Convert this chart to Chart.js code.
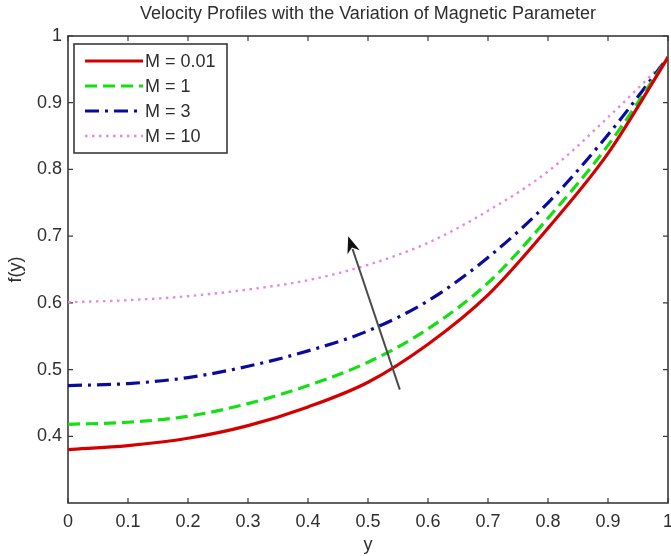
<!DOCTYPE html>
<html>
<head>
<meta charset="utf-8">
<script src="https://cdn.jsdelivr.net/npm/chart.js@4.4.1/dist/chart.umd.min.js"></script>
<style>
  html, body { margin: 0; padding: 0; background: #fff; }
  #wrap { width: 671px; height: 556px; position: relative; }
</style>
</head>
<body>
<div id="wrap"><canvas id="velocity-chart"></canvas></div>
<script>
/* ── DATA ── */
const yPos   = [0, 0.1, 0.2, 0.3, 0.4, 0.5, 0.6, 0.7, 0.8, 0.9, 1.0];
const fM001  = [0.380, 0.386, 0.397, 0.416, 0.444, 0.481, 0.538, 0.612, 0.712, 0.824, 0.968];
const fM1    = [0.418, 0.421, 0.430, 0.449, 0.476, 0.511, 0.561, 0.630, 0.727, 0.836, 0.968];
const fM3    = [0.476, 0.479, 0.488, 0.505, 0.528, 0.558, 0.603, 0.668, 0.750, 0.852, 0.968];
const fM10   = [0.601, 0.604, 0.610, 0.620, 0.634, 0.657, 0.690, 0.738, 0.797, 0.878, 0.966];
const seriesLabels = ['M = 0.01', 'M = 1', 'M = 3', 'M = 10'];
const xTicks = [0, 0.1, 0.2, 0.3, 0.4, 0.5, 0.6, 0.7, 0.8, 0.9, 1];
const yTicks = [0.4, 0.5, 0.6, 0.7, 0.8, 0.9, 1];
const arrowTail = [0.553, 0.470];
const arrowHead = [0.467, 0.700];

const C = {
  red:   '#d40000',
  green: '#12e012',
  blue:  '#0a0a9e',
  pink:  '#e58ae0',
  text:  '#2e2e2e',
  axis:  '#3a3a3a',
};
const FONT = "'Liberation Sans', Arial, Helvetica, sans-serif";

const pts = (ys) => yPos.map((x, i) => ({ x, y: ys[i] }));

/* ── FRAME + INWARD TICKS (matlab style) ── */
const framePlugin = {
  id: 'frame',
  beforeDatasetsDraw(chart) {
    const { ctx, chartArea: a, scales } = chart;
    ctx.save();
    ctx.strokeStyle = C.axis;
    ctx.lineWidth = 1.6;
    ctx.strokeRect(a.left, a.top, a.right - a.left, a.bottom - a.top);
    ctx.lineWidth = 1.2;
    ctx.beginPath();
    scales.x.ticks.forEach(t => {
      const px = scales.x.getPixelForValue(t.value);
      ctx.moveTo(px, a.bottom); ctx.lineTo(px, a.bottom - 5);
      ctx.moveTo(px, a.top);    ctx.lineTo(px, a.top + 5);
    });
    scales.y.ticks.forEach(t => {
      const py = scales.y.getPixelForValue(t.value);
      ctx.moveTo(a.left, py);  ctx.lineTo(a.left + 5, py);
      ctx.moveTo(a.right, py); ctx.lineTo(a.right - 5, py);
    });
    ctx.stroke();
    ctx.restore();
  },
};

/* ── ARROW + LEGEND BOX ── */
const overlayPlugin = {
  id: 'overlay',
  afterDatasetsDraw(chart) {
    const { ctx, scales } = chart;
    // arrow
    const x0 = scales.x.getPixelForValue(arrowTail[0]);
    const y0 = scales.y.getPixelForValue(arrowTail[1]);
    const x1 = scales.x.getPixelForValue(arrowHead[0]);
    const y1 = scales.y.getPixelForValue(arrowHead[1]);
    const ang = Math.atan2(y1 - y0, x1 - x0);
    const hl = 17, hw = 6.5;
    ctx.save();
    ctx.strokeStyle = '#4a4a4a';
    ctx.lineWidth = 2;
    ctx.beginPath();
    ctx.moveTo(x0, y0);
    ctx.lineTo(x1 - Math.cos(ang) * hl * 0.8, y1 - Math.sin(ang) * hl * 0.8);
    ctx.stroke();
    ctx.fillStyle = '#111';
    ctx.beginPath();
    ctx.moveTo(x1, y1);
    ctx.lineTo(x1 - Math.cos(ang) * hl - Math.sin(ang) * hw, y1 - Math.sin(ang) * hl + Math.cos(ang) * hw);
    ctx.lineTo(x1 - Math.cos(ang) * hl * 0.7, y1 - Math.sin(ang) * hl * 0.7);
    ctx.lineTo(x1 - Math.cos(ang) * hl + Math.sin(ang) * hw, y1 - Math.sin(ang) * hl - Math.cos(ang) * hw);
    ctx.closePath();
    ctx.fill();

    // legend
    const bx = 74, by = 44, bw = 153, bh = 109;
    ctx.fillStyle = '#fff';
    ctx.fillRect(bx, by, bw, bh);
    ctx.strokeStyle = C.axis;
    ctx.lineWidth = 1.6;
    ctx.strokeRect(bx, by, bw, bh);
    const rows = [61, 86, 111, 136];
    chart.data.datasets.forEach((ds, i) => {
      const ry = rows[i];
      ctx.strokeStyle = ds.borderColor;
      ctx.lineWidth = ds.borderWidth;
      ctx.lineCap = ds.borderCapStyle || 'butt';
      ctx.setLineDash(ds.borderDash || []);
      ctx.beginPath();
      ctx.moveTo(85, ry);
      ctx.lineTo(143, ry);
      ctx.stroke();
      ctx.setLineDash([]);
      ctx.fillStyle = C.text;
      ctx.font = '18px ' + FONT;
      ctx.textBaseline = 'middle';
      ctx.fillText(ds.label, 145, ry + 1);
    });
    ctx.restore();
  },
};

const ctx = document.getElementById('velocity-chart');

new Chart(ctx, {
  type: 'line',
  data: {
    datasets: [
      { label: seriesLabels[0], data: pts(fM001), borderColor: C.red,   borderWidth: 3.2, borderDash: [] },
      { label: seriesLabels[1], data: pts(fM1),   borderColor: C.green, borderWidth: 3.2, borderDash: [12, 6] },
      { label: seriesLabels[2], data: pts(fM3),   borderColor: C.blue,  borderWidth: 3.2, borderDash: [14, 6, 3, 6] },
      { label: seriesLabels[3], data: pts(fM10),  borderColor: C.pink,  borderWidth: 2.4, borderDash: [2.5, 4.5] },
    ].map(d => ({ ...d, pointRadius: 0, fill: false, cubicInterpolationMode: 'monotone' })),
  },
  options: {
    responsive: true,
    maintainAspectRatio: false,
    animation: false,
    devicePixelRatio: 1,
    layout: { padding: { left: 0, right: 3, top: 0, bottom: 0 } },
    plugins: {
      legend: { display: false },
      tooltip: { enabled: false },
      title: {
        display: true,
        fullSize: false,
        text: 'Velocity Profiles with the Variation of Magnetic Parameter',
        color: C.text,
        font: { family: FONT, size: 18, weight: 'normal' },
        padding: { top: 3, bottom: 11.4 },
      },
    },
    scales: {
      x: {
        type: 'linear',
        min: 0, max: 1,
        afterBuildTicks: s => { s.ticks = xTicks.map(v => ({ value: v })); },
        afterFit: s => { s.height = 53; s.paddingRight = 0; s.paddingLeft = 0; },
        grid: { display: false, drawTicks: false },
        border: { display: false },
        ticks: {
          color: C.text, padding: 8, maxRotation: 0, autoSkip: false,
          font: { family: FONT, size: 18 },
          callback: v => String(Math.round(v * 10) / 10),
        },
        title: { display: true, text: 'y', color: C.text, font: { family: FONT, size: 18 }, padding: { top: 2, bottom: 0 } },
      },
      y: {
        type: 'linear',
        min: 0.3, max: 1,
        afterBuildTicks: s => { s.ticks = yTicks.map(v => ({ value: v })); },
        afterFit: s => { s.width = 68; s.paddingTop = 0; s.paddingBottom = 0; },
        grid: { display: false, drawTicks: false },
        border: { display: false },
        ticks: {
          color: C.text, padding: 6, autoSkip: false,
          font: { family: FONT, size: 18 },
          callback: v => String(Math.round(v * 10) / 10),
        },
        title: { display: true, text: 'f(y)', color: C.text, font: { family: FONT, size: 18 }, padding: { top: 5, bottom: 2 } },
      },
    },
  },
  plugins: [framePlugin, overlayPlugin],
});
</script>
</body>
</html>
